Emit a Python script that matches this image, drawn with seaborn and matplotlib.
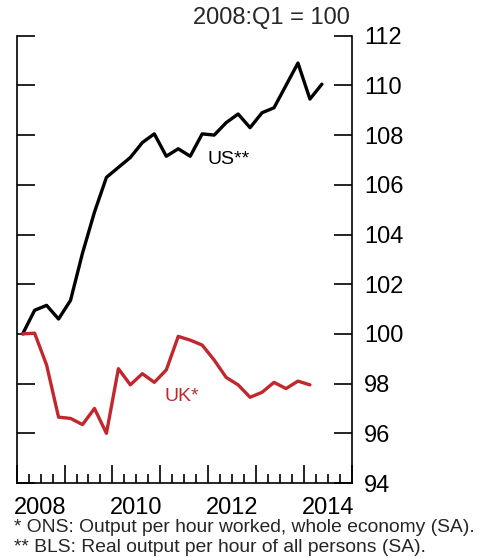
import numpy as np
import pandas as pd
import matplotlib
matplotlib.use("Agg")
import matplotlib.pyplot as plt
import matplotlib.transforms as mtransforms
from matplotlib.ticker import MultipleLocator
import seaborn as sns

# Labour productivity, index 2008:Q1 = 100, quarterly
us_values = [100.0, 100.95, 101.15, 100.6, 101.35, 103.25, 104.9, 106.3, 106.7,
             107.1, 107.7, 108.05, 107.15, 107.45, 107.15, 108.05, 108.0, 108.5,
             108.85, 108.3, 108.9, 109.1, 110.0, 110.9, 109.45, 110.05]
uk_values = [100.0, 100.03, 98.75, 96.65, 96.6, 96.35, 97.0, 96.0, 98.6, 97.95,
             98.4, 98.05, 98.55, 99.9, 99.75, 99.55, 98.95, 98.25, 97.95, 97.45,
             97.65, 98.05, 97.8, 98.1, 97.95]
series_names = ["US**", "UK*"]
year_labels = ["2008", "2010", "2012", "2014"]
y_ticks = list(range(94, 113, 2))
base_note = "2008:Q1 = 100"
footnotes = ["* ONS: Output per hour worked, whole economy (SA).",
             "** BLS: Real output per hour of all persons (SA)."]

RED = "#C1272D"

def quarter_times(n):
    # plot each quarter at its midpoint
    return [2008 + (i + 0.5) / 4 for i in range(n)]

df = pd.concat([
    pd.DataFrame({"time": quarter_times(len(us_values)), "index": us_values,
                  "series": series_names[0]}),
    pd.DataFrame({"time": quarter_times(len(uk_values)), "index": uk_values,
                  "series": series_names[1]}),
])

sns.set_theme(style="ticks")
plt.rcParams["font.family"] = ["Liberation Sans", "DejaVu Sans"]

fig = plt.figure(figsize=(4.9, 5.58), dpi=100)
ax = fig.add_axes([0.034, 0.1344, 0.684, 0.8016])

sns.lineplot(data=df, x="time", y="index", hue="series",
             palette={series_names[0]: "black", series_names[1]: RED},
             linewidth=2.4, legend=False, ax=ax)

ax.set_xlim(2008, 2015)
ax.set_ylim(94, 112)
ax.set_xlabel("")
ax.set_ylabel("")

for side in ["left", "right", "bottom"]:
    ax.spines[side].set_visible(True)
    ax.spines[side].set_color("black")
    ax.spines[side].set_linewidth(1.2)
ax.spines["top"].set_visible(False)

# y axis: ticks inward on both sides, labels on the right
ax.set_yticks(y_ticks)
ax.yaxis.set_ticks_position("both")
ax.tick_params(axis="y", direction="in", length=13, width=1.2, color="black",
               labelleft=False, labelright=True, labelsize=17, pad=9,
               labelcolor="black")

# x axis: year marks (long) and quarter marks (short), inward
ax.xaxis.set_major_locator(MultipleLocator(1))
ax.xaxis.set_minor_locator(MultipleLocator(0.25))
ax.xaxis.set_ticks_position("bottom")
ax.tick_params(axis="x", which="major", direction="in", length=13, width=1.2,
               color="black", labelbottom=False)
ax.tick_params(axis="x", which="minor", direction="in", length=6.5, width=1.2,
               color="black")

# year labels centred under each labelled year
trans = mtransforms.blended_transform_factory(ax.transData, ax.transAxes)
for lab in year_labels:
    ax.text(int(lab) + 0.5, -0.032, lab, transform=trans, ha="center", va="top",
            fontsize=17, color="black")

# series labels
ax.text(2011.98, 107.0, series_names[0], fontsize=14, color="black",
        ha="left", va="center")
ax.text(2011.09, 97.5, series_names[1], fontsize=14, color=RED,
        ha="left", va="center")

fig.text(0.394, 0.968, base_note, fontsize=17, ha="left", va="center")
fig.text(0.028, 0.055, footnotes[0], fontsize=13.9, ha="left", va="center")
fig.text(0.028, 0.018, footnotes[1], fontsize=13.9, ha="left", va="center")

fig.savefig("out.png", dpi=100)
